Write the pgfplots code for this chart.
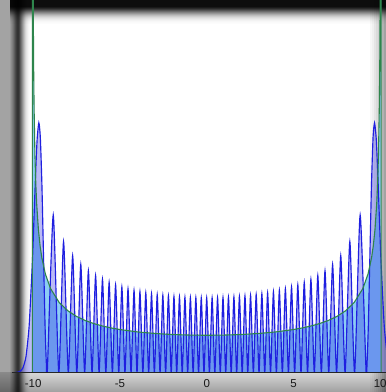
\documentclass[border=0pt]{standalone}
\usepackage{pgfplots}
\pgfplotsset{compat=1.18}
\usepackage{pgfplotstable}
\usepackage{fontspec}
\setmainfont{Liberation Sans}
\definecolor{bluec}{rgb}{0.12,0.12,0.88}
\definecolor{skyc}{rgb}{0.55,0.80,0.96}
\definecolor{greenc}{rgb}{0.18,0.52,0.30}
\pgfplotstableread{
x y
-11.1551 0.000032
-10.9709 0.000182
-10.7867 0.000899
-10.6025 0.003793
-10.4183 0.013486
-10.2341 0.039552
-10.0499 0.092872
-9.9578 0.129231
-9.8657 0.166753
-9.7736 0.197475
-9.6746 0.211413
-9.5894 0.199188
-9.4973 0.158802
-9.4052 0.098419
-9.3131 0.038104
-9.2394 0.006812
-9.1885 0
-8.845 0.133425
-8.525 0
-8.25 0.110926
-7.9770 0
-7.7262 0.099055
-7.4868 0
-7.2570 0.091568
-7.0350 0
-6.8192 0.086236
-6.6090 0
-6.4039 0.082194
-6.2033 0
-6.0066 0.079011
-5.8133 0
-5.6232 0.076430
-5.4360 0
-5.2515 0.074297
-5.0693 0
-4.8894 0.072505
-4.7115 0
-4.5354 0.070986
-4.3611 0
-4.1884 0.069686
-4.0172 0
-3.8474 0.068570
-3.6788 0
-3.5114 0.067607
-3.3451 0
-3.1799 0.066777
-3.0156 0
-2.8522 0.066062
-2.6896 0
-2.5277 0.065450
-2.3666 0
-2.2061 0.064930
-2.0462 0
-1.8868 0.064493
-1.7279 0
-1.5694 0.064133
-1.4114 0
-1.2537 0.063845
-1.0963 0
-0.9392 0.063625
-0.7823 0
-0.6256 0.063470
-0.4691 0
-0.3127 0.063377
-0.1563 0
0 0.063346
0.1563 0
0.3127 0.063377
0.4691 0
0.6256 0.063470
0.7823 0
0.9392 0.063625
1.0963 0
1.2537 0.063845
1.4114 0
1.5694 0.064133
1.7279 0
1.8868 0.064493
2.0462 0
2.2061 0.064930
2.3666 0
2.5277 0.065450
2.6896 0
2.8522 0.066062
3.0156 0
3.1799 0.066777
3.3451 0
3.5114 0.067607
3.6788 0
3.8474 0.068570
4.0172 0
4.1884 0.069686
4.3611 0
4.5354 0.070986
4.7115 0
4.8894 0.072505
5.0693 0
5.2515 0.074297
5.4360 0
5.6232 0.076430
5.8133 0
6.0066 0.079011
6.2033 0
6.4039 0.082194
6.6090 0
6.8192 0.086236
7.0350 0
7.2570 0.091568
7.4868 0
7.7262 0.099055
7.9770 0
8.25 0.110926
8.525 0
8.845 0.133425
9.1885 0
9.2394 0.006812
9.3131 0.038104
9.4052 0.098419
9.4973 0.158802
9.5894 0.199188
9.6746 0.211413
9.7736 0.197475
9.8657 0.166753
9.9578 0.129231
10.0499 0.092872
10.2341 0.039552
10.4183 0.013486
10.6025 0.003793
10.7867 0.000899
10.9709 0.000182
11.1551 0.000032
}\quantum
\pgfplotstableread{
x y
-10.0499 0
-10.0499 1
-10.04 0.714635
-10.02 0.411071
-10.0 0.318310
-9.975 0.259955
-9.95 0.225221
-9.9 0.184083
-9.85 0.159604
-9.8 0.142926
-9.7 0.121091
-9.6 0.107060
-9.5 0.097083
-9.3 0.083564
-9 0.071176
-8.5 0.059365
-8 0.052330
-7.5 0.047583
-7 0.044141
-6.5 0.041528
-6 0.039481
-5.5 0.037843
-5 0.036513
-4 0.034525
-3 0.033186
-2 0.032319
-1 0.031831
0 0.031673
1 0.031831
2 0.032319
3 0.033186
4 0.034525
5 0.036513
5.5 0.037843
6 0.039481
6.5 0.041528
7 0.044141
7.5 0.047583
8 0.052330
8.5 0.059365
9 0.071176
9.3 0.083564
9.5 0.097083
9.6 0.107060
9.7 0.121091
9.8 0.142926
9.85 0.159604
9.9 0.184083
9.95 0.225221
9.975 0.259955
10.0 0.318310
10.02 0.411071
10.04 0.714635
10.0499 1
10.0499 0
}\classical
\begin{document}
\begin{tikzpicture}
\useasboundingbox (-12pt,-19.3pt) rectangle (374pt,372.7pt);
\begin{scope}[shift={(-12pt,-19.3pt)}, x=1pt, y=1pt]
\fill[white] (0,0) rectangle (386,392);
% bottom band
\shade[top color={rgb,255:red,214;green,214;blue,214}, bottom color={rgb,255:red,160;green,160;blue,160}] (0,0) rectangle (386,19.3);
% left strip and shadow
\fill[black, opacity=0.36] (0,0) rectangle (10,392);
\foreach \a/\o in {10/0.40,11/0.45,12/0.50,13/0.56,14/0.63,15/0.70,16/0.76,17/0.80,18/0.80,19/0.74,20/0.64,21/0.54,22/0.44,23/0.34,24/0.25,25/0.17,26/0.11,27/0.07,28/0.04,29/0.02}
  {\fill[black, opacity=\o] (\a,0) rectangle ++(1,392);}
% top shadow
\fill[black, opacity=0.95] (10,385) rectangle (386,392);
\foreach \r/\o in {7/0.90,8/0.84,9/0.76,10/0.67,11/0.58,12/0.49,13/0.41,14/0.33,15/0.26,16/0.20,17/0.15,18/0.11,19/0.08,20/0.05,21/0.03,22/0.02,23/0.01}
  {\fill[black, opacity=\o] (10,{391-\r}) rectangle (386,{392-\r});}
% right shadow
\foreach \a/\o in {370/0.03,372/0.06,374/0.10,376/0.14,378/0.19,380/0.24,382/0.30,384/0.36}
  {\fill[black, opacity=\o] (\a,0) rectangle ++(2,392);}
\end{scope}
\begin{axis}[
  anchor=south west,
  scale only axis, width=374pt, height=372.7pt,
  xmin=-11.222, xmax=10.3343, ymin=0, ymax=0.31531,
  enlargelimits=false,
  hide y axis,
  axis x line=bottom,
  x axis line style={-, draw=black!85, line width=1.2pt},
  axis on top,
  xtick={-10,-5,0,5,10},
  xticklabels={-10,-5,0,5,10},
  major tick length=0pt,
  xticklabel style={anchor=center, yshift=-10.5pt, text=black!90, font=\fontsize{11.5}{13}\selectfont},
]
\addplot[draw=none, fill=skyc] table[x=x,y=y] {\classical} \closedcycle;
\addplot[draw=none, fill=bluec, fill opacity=0.3, smooth, tension=0.36] table[x=x,y=y] {\quantum} \closedcycle;
\addplot[bluec, line width=1.15pt, smooth, tension=0.36] table[x=x,y=y] {\quantum};
\addplot[greenc, line width=1.1pt] table[x=x,y=y] {\classical};
\end{axis}
\end{tikzpicture}
\end{document}
